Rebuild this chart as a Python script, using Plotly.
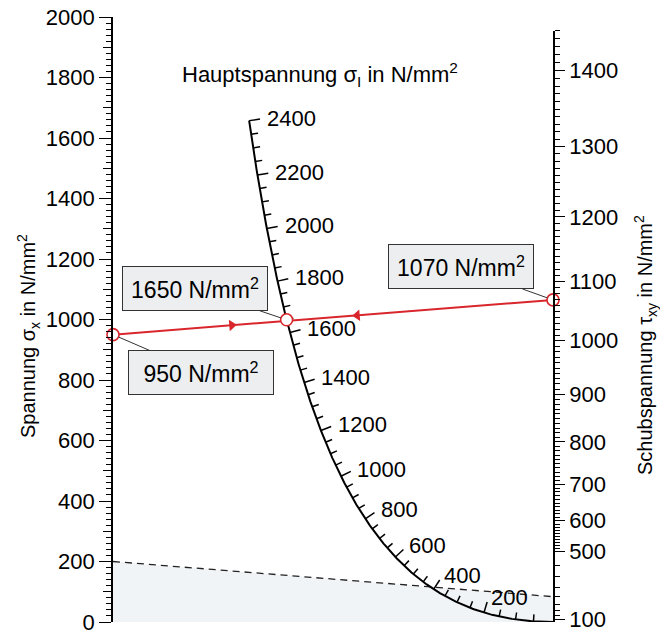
import numpy as np
import plotly.graph_objects as go

# ---------------- data ----------------
sigma_x_major = list(range(0, 2001, 200))                 # left scale labels
tau_labels = [100, 500, 600, 700, 800, 900, 1000, 1100, 1200, 1300, 1400]
tau_minor_low = [150, 200, 250, 300, 350, 400, 450]
tau_max = 1450
sigmaI_labels = list(range(200, 2401, 200))                # curve labels
sigmaI_ticks = list(range(50, 2401, 50))
sigmaI_max = 2400

sigma_x_example = 950        # N/mm^2
tau_example = 1070           # N/mm^2
sigma_I_example = 1650       # N/mm^2
limit_sigma_x = 200
limit_tau = 300

# ---------------- nomogram scales ----------------
K = 9.3e-4                   # tau^2 -> left-axis units
PX = 440.0                   # px per x-unit (left axis x=0, right axis x=1)
PY = 605.0 / 2000.0          # px per sigma_x unit

def tau_pos(tau):
    return K * np.asarray(tau, dtype=float) ** 2

def curve_pos(s):
    s = np.asarray(s, dtype=float)
    t = 1.0 / (K * s + 1.0)
    y = K * s * s / (K * s + 1.0)
    return t, y

def curve_normal(s):
    h = 1.0
    x1, y1 = curve_pos(s - h)
    x2, y2 = curve_pos(s + h)
    tx, ty = (x2 - x1) * PX, (y2 - y1) * PY
    n = np.hypot(tx, ty)
    tx, ty = tx / n, ty / n
    return ty, -tx          # upper-right normal (pixel units, y up)

FONT = "Liberation Sans, Arial, sans-serif"
RED = "#d8262c"

fig = go.Figure()

# light shading below the dashed limit line
fig.add_trace(go.Scatter(
    x=[0, 0, 1, 1], y=[0, limit_sigma_x, float(tau_pos(limit_tau)), 0],
    fill="toself", fillcolor="rgba(222,230,236,0.45)", line=dict(width=0),
    mode="lines", hoverinfo="skip", showlegend=False))

# dashed limit line
fig.add_trace(go.Scatter(
    x=[0, 1], y=[limit_sigma_x, float(tau_pos(limit_tau))], mode="lines",
    line=dict(color="#222", width=1.3, dash="7px,5px"),
    hoverinfo="skip", showlegend=False))

# principal stress curve
s_dense = np.linspace(0, sigmaI_max, 500)
cx, cy = curve_pos(s_dense)
fig.add_trace(go.Scatter(x=cx, y=cy, mode="lines",
                         line=dict(color="black", width=2),
                         hoverinfo="skip", showlegend=False, cliponaxis=False))

# curve ticks
tx_list, ty_list = [], []
for s in sigmaI_ticks:
    L = 11 if s % 200 == 0 else 7
    px_, py_ = curve_pos(s)
    nx, ny = curve_normal(s)
    tx_list += [float(px_), float(px_ + nx * L / PX), None]
    ty_list += [float(py_), float(py_ + ny * L / PY), None]
fig.add_trace(go.Scatter(x=tx_list, y=ty_list, mode="lines",
                         line=dict(color="black", width=1.5),
                         hoverinfo="skip", showlegend=False))

annotations = []
for s in sigmaI_labels:
    px_, py_ = curve_pos(s)
    nx, ny = curve_normal(s)
    D = 16
    annotations.append(dict(
        x=float(px_ + nx * D / PX), y=float(py_ + ny * D / PY),
        xref="x", yref="y", text=str(s), showarrow=False,
        xanchor="left", yanchor="middle",
        font=dict(family=FONT, size=22, color="black")))

# red construction line
y_left = sigma_x_example
y_right = float(tau_pos(tau_example))
fig.add_trace(go.Scatter(x=[0, 1], y=[y_left, y_right], mode="lines",
                         line=dict(color=RED, width=2),
                         hoverinfo="skip", showlegend=False))

# direction arrows on the red line
ang = np.degrees(np.arctan((y_right - y_left) * PY / PX))
for tpos, sym in [(0.27, "triangle-right"), (0.555, "triangle-left")]:
    fig.add_trace(go.Scatter(
        x=[tpos], y=[y_left + (y_right - y_left) * tpos], mode="markers",
        marker=dict(symbol=sym, size=10, color=RED, angle=-ang,
                    line=dict(width=0)),
        hoverinfo="skip", showlegend=False))

# circles
mx, my = curve_pos(sigma_I_example)
pts_x = [0, float(mx), 1]
pts_y = [y_left, float(my), y_right]
fig.add_trace(go.Scatter(x=pts_x, y=pts_y, mode="markers",
                         marker=dict(size=12, color="white",
                                     line=dict(color=RED, width=1.6)),
                         hoverinfo="skip", showlegend=False, cliponaxis=False))

# dummy traces so the extra axes are drawn
fig.add_trace(go.Scatter(x=[], y=[], xaxis="x", yaxis="y2", showlegend=False))
fig.add_trace(go.Scatter(x=[], y=[], xaxis="x", yaxis="y3", showlegend=False))

# value boxes
box_style = dict(showarrow=True, arrowhead=0, arrowwidth=1, arrowcolor="#333",
                 standoff=6, bgcolor="#eceef0", bordercolor="#333",
                 borderwidth=1, borderpad=3, width=138, height=37,
                 font=dict(family=FONT, size=23, color="black"),
                 xref="x", yref="y", axref="pixel", ayref="pixel")
annotations.append(dict(x=float(mx), y=float(my),
                        text=f"{sigma_I_example} N/mm<sup>2</sup>",
                        ax=-92, ay=-31, **box_style))
annotations.append(dict(x=0, y=y_left,
                        text=f"{sigma_x_example} N/mm<sup>2</sup>",
                        ax=88, ay=38, **box_style))
annotations.append(dict(x=1, y=y_right,
                        text=f"{tau_example} N/mm<sup>2</sup>",
                        ax=-92, ay=-33, **box_style))

# titles
annotations.append(dict(x=(320 - 113) / PX, y=(622 - 74) / 605, xref="paper",
                        yref="paper", showarrow=False,
                        text="Hauptspannung σ<sub>I</sub> in N/mm<sup>2</sup>",
                        font=dict(family=FONT, size=22, color="black"),
                        xanchor="center", yanchor="middle"))
annotations.append(dict(x=(28 - 113) / PX, y=(622 - 336) / 605, xref="paper",
                        yref="paper", showarrow=False, textangle=-90,
                        text="Spannung σ<sub>x</sub> in N/mm<sup>2</sup>",
                        font=dict(family=FONT, size=20, color="black"),
                        xanchor="center", yanchor="middle"))
annotations.append(dict(x=(645 - 113) / PX, y=(622 - 345) / 605, xref="paper",
                        yref="paper", showarrow=False, textangle=-90,
                        text="Schubspannung τ<sub>xy</sub> in N/mm<sup>2</sup>",
                        font=dict(family=FONT, size=20, color="black"),
                        xanchor="center", yanchor="middle"))

tickfont = dict(family=FONT, size=22, color="black")
right_top = float(tau_pos(tau_max))
tau_minor = tau_minor_low + [v for v in range(510, tau_max + 1, 10)
                             if v not in tau_labels]

fig.update_layout(
    width=660, height=632,
    margin=dict(l=113, r=107, t=17, b=10, autoexpand=False),
    paper_bgcolor="white", plot_bgcolor="rgba(0,0,0,0)",
    showlegend=False,
    xaxis=dict(range=[0, 1], visible=False, fixedrange=True, automargin=False),
    yaxis=dict(range=[0, 2000], tickmode="array", tickvals=sigma_x_major,
               ticktext=[str(v) for v in sigma_x_major], automargin=False,
               ticklabeloverflow="allow",
               ticks="outside", ticklen=12, tickwidth=1.3, tickcolor="black",
               showline=True, linecolor="black", linewidth=1.6,
               showgrid=False, zeroline=False, tickfont=tickfont,
               minor=dict(tickmode="array",
                          tickvals=[v for v in range(0, 2001, 20) if v % 100],
                          ticks="outside", ticklen=5, tickwidth=1,
                          tickcolor="black", showgrid=False)),
    yaxis3=dict(range=[0, 2000], overlaying="y", side="left", anchor="x",
                tickmode="array", tickvals=list(range(100, 2000, 200)),
                ticks="outside", ticklen=9, tickwidth=1.2, tickcolor="black",
                showticklabels=False, showgrid=False, zeroline=False,
                showline=False, automargin=False),
    yaxis2=dict(domain=[0, right_top / 2000], range=[0, right_top],
                anchor="x", side="right", tickmode="array", automargin=False,
                ticklabeloverflow="allow",
                tickvals=[float(v) for v in tau_pos(tau_labels)],
                ticktext=[str(v) for v in tau_labels],
                ticks="outside", ticklen=10, tickwidth=1.3, tickcolor="black",
                showline=True, linecolor="black", linewidth=1.6,
                showgrid=False, zeroline=False, tickfont=tickfont,
                minor=dict(tickmode="array",
                           tickvals=[float(v) for v in tau_pos(tau_minor)],
                           ticks="outside", ticklen=5, tickwidth=1,
                           tickcolor="black", showgrid=False)),
    annotations=annotations,
)

fig.write_html("out.html",
               config={"displayModeBar": False},
               post_script="document.body.style.margin='0px';"
                           "document.body.style.overflow='hidden';")
